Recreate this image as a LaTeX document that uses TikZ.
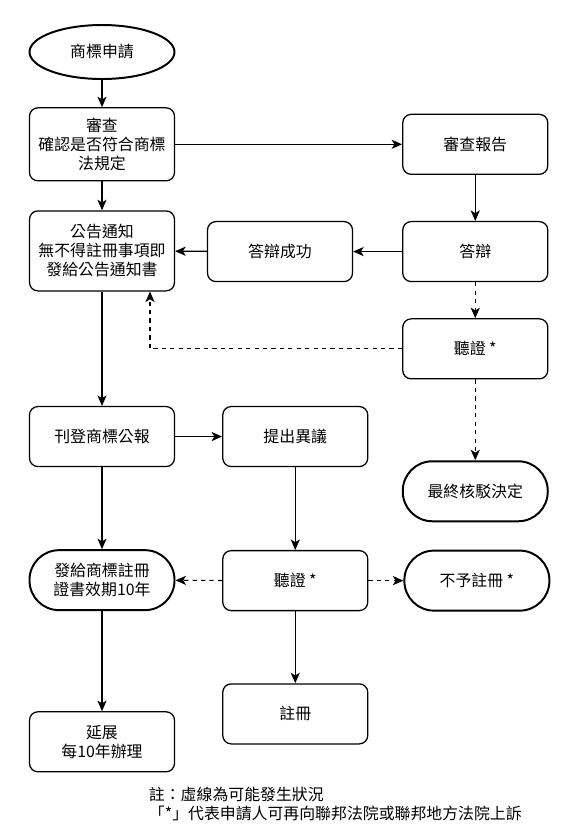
\documentclass[tikz,border=0pt]{standalone}
\usepackage{fontspec}
\setmainfont{Noto Sans CJK TC}
\usetikzlibrary{arrows.meta, positioning, shapes.geometric}

\begin{document}
\begin{tikzpicture}[
  font=\fontsize{11.3}{13.5}\selectfont,
  procbox/.style={rectangle, draw, line width=0.9pt, rounded corners=6pt,
    minimum width=3.625cm, minimum height=1.5cm, align=center, inner sep=2pt},
  endbox/.style={rectangle, draw, line width=1.4pt, rounded corners=0.74cm,
    minimum width=3.625cm, minimum height=1.5cm, align=center},
  flow/.style={-{Stealth[length=7.5pt, width=6.5pt, inset=2pt]}, line width=0.8pt},
  maybe/.style={flow, dash pattern=on 3pt off 3pt},
]
  \useasboundingbox (0,0) rectangle (14.325,-21);

  % application and examination
  \node[ellipse, draw, line width=1.4pt, minimum width=3.625cm, minimum height=1.35cm]
    (apply) at (2.55,-1.3) {商標申請};
  \node[procbox, minimum height=1.825cm, below=0.68cm of apply] (exam) {審查\\確認是否符合商標\\法規定};
  \node[procbox, minimum height=2cm, below=0.72cm of exam] (notice) {公告通知\\無不得註冊事項即\\發給公告通知書};

  % office action branch
  \node[procbox, right=5.675cm of exam] (report) {審查報告};
  \node[procbox, below=1.15cm of report] (defend) {答辯};
  \node[procbox, left=1.225cm of defend] (defendok) {答辯成功};
  \node[procbox, below=0.9cm of defend] (hear1) {聽證 *};
  \node[endbox, below=2.02cm of hear1] (reject) {最終核駁決定};

  % publication and opposition
  \node[procbox, below=2.86cm of notice] (publish) {刊登商標公報};
  \node[procbox, right=1.175cm of publish] (oppose) {提出異議};
  \node[endbox, below=2.05cm of publish] (grant) {發給商標註冊\\證書效期10年};
  \node[procbox, below=2.07cm of oppose] (hear2) {聽證 *};
  \node[endbox, right=0.875cm of hear2] (refuse) {不予註冊 *};
  \node[procbox, below=1.8cm of hear2] (register) {註冊};
  \node[procbox, below=2.5cm of grant] (renew) {延展\\每10年辦理};

  \node[anchor=north west, align=left] (remark) at (3.6,-19.55)
    {註：虛線為可能發生狀況\\「*」代表申請人可再向聯邦法院或聯邦地方法院上訴};

  \draw[flow] (apply) -- (exam);
  \draw[flow] (exam) -- (report);
  \draw[flow] (exam) -- (notice);
  \draw[flow] (report) -- (defend);
  \draw[flow] (defend) -- (defendok);
  \draw[flow] (defendok) -- (notice);
  \draw[maybe] (defend) -- (hear1);
  \draw[maybe] (hear1.west) -| ([xshift=1.2cm]notice.south);
  \draw[maybe] (hear1) -- (reject);
  \draw[flow] (notice) -- (publish);
  \draw[flow] (publish) -- (oppose);
  \draw[flow] (publish) -- (grant);
  \draw[flow] (oppose) -- (hear2);
  \draw[maybe] (hear2) -- (grant);
  \draw[maybe] (hear2) -- (refuse);
  \draw[flow] (hear2) -- (register);
  \draw[flow] (grant) -- (renew);
\end{tikzpicture}
\end{document}
